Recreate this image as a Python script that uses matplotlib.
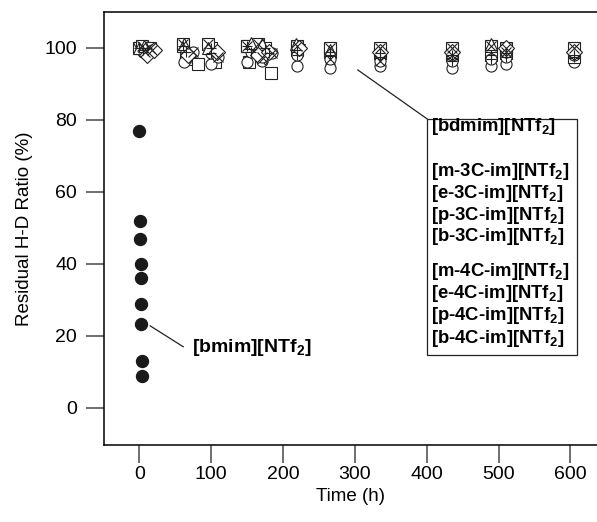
import matplotlib

matplotlib.use("Agg")
import matplotlib.pyplot as plt
from matplotlib.patches import Rectangle

plt.rcParams["font.family"] = "Liberation Sans"
plt.rcParams["mathtext.fontset"] = "custom"
plt.rcParams["mathtext.rm"] = "Liberation Sans"
plt.rcParams["mathtext.bf"] = "Liberation Sans:bold"

# [bmim][NTf2] - decays fast near t = 0
bmim_t = [0, 1, 1, 1.5, 1.5, 2, 2.5, 3.5, 4]
bmim_v = [77, 52, 47, 40, 36, 29, 23.2, 13, 8.8]

# stable ionic liquids (open markers)
names = ["[bdmim]", "[m-3C-im]", "[e-3C-im]", "[p-3C-im]", "[b-3C-im]",
         "[m-4C-im]", "[e-4C-im]", "[p-4C-im]", "[b-4C-im]"]
series_t = [
    [2, 8, 65, 82, 105, 152, 183],
    [5, 62, 100, 150, 170, 220, 265, 335, 435, 490, 510, 605],
    [0, 10, 60, 100, 150, 175, 220, 265, 335, 435, 490, 510, 605],
    [5, 65, 100, 155, 180, 220, 265, 335, 435, 490, 510, 605],
    [0, 12, 70, 105, 160, 175, 222, 335, 490],
    [3, 15, 60, 95, 150, 165, 220, 265, 335, 435, 490, 510, 605],
    [8, 18, 75, 110, 170, 185, 265, 335, 435, 510],
    [0, 6, 62, 95, 155, 170, 218, 265, 335, 435, 490, 605],
    [10, 20, 68, 108, 165, 180, 222, 335, 435, 510, 605],
]
series_v = [
    [100, 99.5, 97, 95.5, 96, 96, 93],
    [99, 96, 95.5, 96, 96.5, 95, 94.5, 95, 94.5, 95, 95.5, 96],
    [100, 100, 100.5, 100, 100.5, 100, 99.5, 99, 98.5, 98, 98, 98.5, 97.5],
    [99.5, 99, 98.5, 99, 98.5, 98, 98, 97.5, 96.5, 97, 97.5, 98],
    [100, 98.5, 97.5, 98, 99, 97, 99.5, 99.5, 100],
    [100.5, 100, 101, 101, 100.5, 101, 100.5, 100, 100, 100, 100.5, 100, 100],
    [99, 99.5, 99, 97.5, 97.5, 98.5, 97, 96.5, 98, 99],
    [100, 100.5, 101, 100, 101.5, 101, 101, 99.5, 99, 99, 101, 99],
    [98, 99.5, 98, 99, 98, 99, 100, 99, 99, 100, 99],
]
# base marker, optional overlay
markers = [("s", None), ("o", None), ("s", "+"), ("o", "+"), ("v", None),
           ("s", "x"), ("o", "x"), ("^", None), ("D", None)]

fig = plt.figure(figsize=(5.97, 5.22), dpi=100)
ax = fig.add_axes([0.1734, 0.1475, 0.8266, 0.8295])

for t, v, (m, extra) in zip(series_t, series_v, markers):
    ax.plot(t, v, ls="none", marker=m, ms=8, mfc="white", mec="#222222",
            mew=0.8, zorder=3)
    if extra:
        ax.plot(t, v, ls="none", marker=extra, ms=7, mec="#222222",
                mew=0.8, zorder=4)

ax.plot(bmim_t, bmim_v, ls="none", marker="o", ms=8.6, mfc="#1a1a1a",
        mec="#1a1a1a", zorder=5)

ax.set_xlim(-50, 637)
ax.set_ylim(-10.3, 110)
ax.set_xticks(range(0, 601, 100))
ax.set_yticks(range(0, 101, 20))
ax.tick_params(direction="out", length=13, width=1.2, color="#555555",
               labelsize=14, pad=6)
ax.tick_params(axis="x", pad=2)
ax.spines["right"].set_visible(False)
for s in ("left", "top", "bottom"):
    ax.spines[s].set_linewidth(1.1)

ax.set_xlabel("Time (h)", fontsize=13.5, labelpad=4)
ax.set_ylabel("Residual H-D Ratio (%)", fontsize=13.5, labelpad=8)

# label for [bmim]
ax.plot([15, 61], [22.8, 17], color="#222222", lw=0.9)
ax.text(73, 16.7, r"[bmim][NTf$_\mathbf{2}$]", fontsize=14, fontweight="bold",
        va="center", ha="left")

# box with the stable liquids
ax.plot([304, 400.5], [93.9, 80.3], color="#222222", lw=0.9)
ax.add_patch(Rectangle((400.5, 14.7), 208.5, 65.6, fill=False,
                       edgecolor="#222222", lw=0.9))
label_y = [78.1, 65.8, 59.7, 53.6, 47.5, 37.8, 31.9, 25.8, 19.4]
for n, y in zip(names, label_y):
    ax.text(406, y, n + r"[NTf$_\mathbf{2}$]", fontsize=13.3, fontweight="bold",
            va="center", ha="left")

fig.savefig("out.png", dpi=100)
